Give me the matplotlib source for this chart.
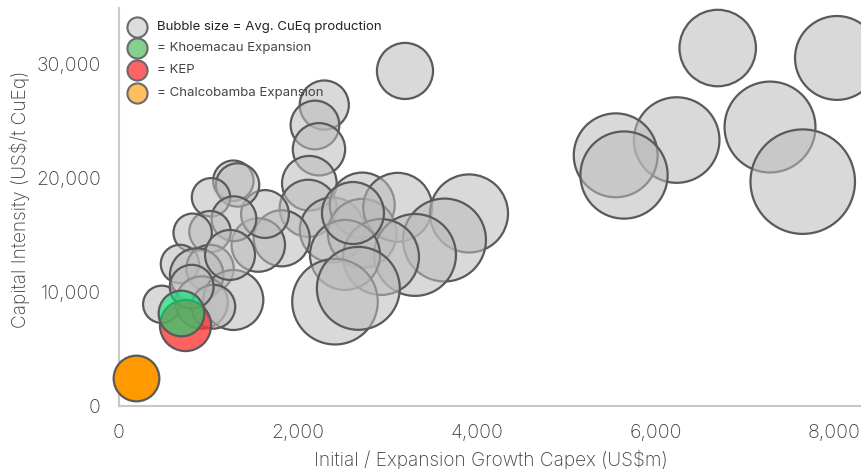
import matplotlib
matplotlib.use("Agg")
import matplotlib.pyplot as plt
from matplotlib.lines import Line2D

plt.rcParams['font.family'] = ['Inter', 'DejaVu Sans']

# Peer projects: initial/expansion capex (US$m), capital intensity (US$/t CuEq), avg production (kt CuEq)
peer_capex = [6697, 8031, 7282, 7648, 6238, 5556, 5649, 3199, 2296, 2192,
              2237, 2129, 2117, 2386, 2721, 2721, 3117, 3915, 3641, 3311,
              2931, 2528, 2416, 2677, 1820, 1558, 1633, 1279, 1326, 1029,
              1286, 1018, 824, 682, 1018, 869, 478, 925, 1279, 1055,
              1242, 813, 2617]
peer_intensity = [31400, 30530, 24470, 19680, 23330, 21990, 20260, 29390, 26400, 24650,
                  22520, 19540, 17340, 15440, 17630, 15150, 17430, 16890, 14560, 13250,
                  13070, 13250, 9150, 10320, 14710, 14120, 16840, 19760, 19390, 18310,
                  16430, 15290, 15200, 12460, 12060, 11490, 8920, 9080, 9300, 8710,
                  13250, 10460, 16930]
peer_production = [143, 172, 202, 267, 179, 172, 186, 77, 59, 58,
                   67, 73, 80, 103, 103, 116, 116, 149, 168, 164,
                   141, 120, 179, 168, 77, 70, 56, 40, 46, 36,
                   49, 42, 36, 36, 55, 70, 34, 67, 88, 47,
                   61, 47, 94]

highlight_names = ["KEP", "Khoemacau Expansion", "Chalcobamba Expansion"]
highlight_capex = [738, 690, 190]
highlight_intensity = [7105, 8180, 2430]
highlight_production = [64, 51, 51]
highlight_colors = [(1.0, 0.2, 0.2, 0.78), (0.0, 0.9, 0.46, 0.6), (1.0, 0.6, 0.0, 1.0)]

legend_labels = ["Bubble size = Avg. CuEq production", "= Khoemacau Expansion",
                 "= KEP", "= Chalcobamba Expansion"]
legend_colors = ["#dcdcdc", "#86d08f", "#ff6262", "#ffbf5e"]

x_ticks = [0, 2000, 4000, 6000, 8000]
y_ticks = [0, 10000, 20000, 30000]

SIZE_K = 21.2  # points^2 per kt

W, H = 862, 469
fig = plt.figure(figsize=(W/100, H/100), dpi=100)
ax = fig.add_axes([119/W, (H-406)/H, 743/W, 398/H])

edge = "#5a5a5a"
ax.scatter(peer_capex, peer_intensity, s=[p*SIZE_K for p in peer_production],
           facecolors=[(0.73, 0.73, 0.73, 0.55)], edgecolors=edge, linewidths=1.6,
           clip_on=False, zorder=3)
for xv, yv, pv, c in zip(highlight_capex, highlight_intensity, highlight_production, highlight_colors):
    ax.scatter([xv], [yv], s=[pv*SIZE_K], facecolors=[c], edgecolors=edge,
               linewidths=1.6, clip_on=False, zorder=4)

text_col = "#3e3e3e"
ax.set_xlim(0, 8311)
ax.set_ylim(0, 34912)
ax.set_xticks(x_ticks)
ax.set_yticks(y_ticks)
ax.set_xticklabels([f"{v:,}" for v in x_ticks])
ax.set_yticklabels([f"{v:,}" for v in y_ticks])
ax.tick_params(length=0, pad=13, labelsize=14, labelcolor=text_col)
for lbl in ax.get_xticklabels() + ax.get_yticklabels():
    lbl.set_fontweight("light")
for side in ["top", "right"]:
    ax.spines[side].set_visible(False)
for side in ["left", "bottom"]:
    ax.spines[side].set_color("#c8c8c8")
    ax.spines[side].set_linewidth(1.5)

ax.set_xlabel("Initial / Expansion Growth Capex (US$m)", fontsize=13.7, color=text_col,
              fontweight="light")
ax.set_ylabel("Capital Intensity (US$/t CuEq)", fontsize=13.7, color=text_col,
              fontweight="light")
ax.xaxis.set_label_coords(0.5007, -(449-406)/398)
ax.yaxis.set_label_coords(-(119-30)/743, (406-199)/398)

# manual legend in figure pixel coordinates
row_y = [27, 48, 70, 93]
for i, (lab, col) in enumerate(zip(legend_labels, legend_colors)):
    fy = (H - row_y[i]) / H
    fig.add_artist(Line2D([137/W], [fy], marker='o', linestyle='none', markersize=14.5,
                          markerfacecolor=col, markeredgecolor="#6a6a6a",
                          markeredgewidth=1.5, zorder=10))
    fig.text(157/W, fy, lab, fontsize=9.5, color="#222222" if i == 0 else "#444444",
             ha="left", va="center", zorder=10)

fig.savefig("out.png", dpi=100)
